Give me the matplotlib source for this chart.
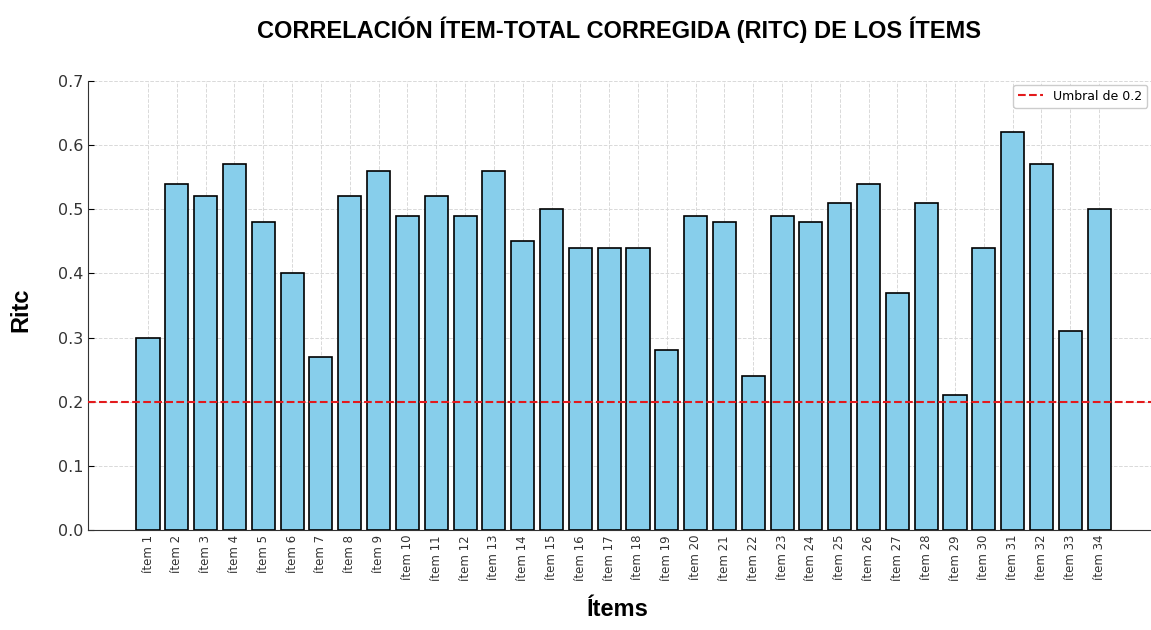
import numpy as np
import matplotlib
matplotlib.use("Agg")
import matplotlib.pyplot as plt

items = ["ítem %d" % i for i in range(1, 35)]
ritc = [0.30, 0.54, 0.52, 0.57, 0.48, 0.40, 0.27, 0.52, 0.56, 0.49,
        0.52, 0.49, 0.56, 0.45, 0.50, 0.44, 0.44, 0.44, 0.28, 0.49,
        0.48, 0.24, 0.49, 0.48, 0.51, 0.54, 0.37, 0.51, 0.21, 0.44,
        0.62, 0.57, 0.31, 0.50]
umbral = 0.2


def main():
    fig = plt.figure(figsize=(11.51, 6.30), dpi=100)
    ax = fig.add_axes([0.0765, 0.1587, 0.9235, 0.7127])

    x = np.arange(len(items))
    ax.bar(x, ritc, width=0.8, color="skyblue", edgecolor="black",
           linewidth=1.2, zorder=2)
    ax.axhline(umbral, color="#e31a1c", linestyle="--", linewidth=1.5,
               label="Umbral de 0.2", zorder=3)

    ax.set_xlim(-2.08, 34.8)
    ax.set_ylim(0, 0.7)
    ax.set_yticks(np.arange(0, 0.71, 0.1))
    ax.set_xticks(x)
    ax.set_xticklabels(items, rotation=90, fontsize=8.5, color="#333333")
    ax.tick_params(axis="y", labelsize=11.5, labelcolor="#333333",
                   direction="in", length=4)
    ax.tick_params(axis="x", direction="in", length=4)
    ax.grid(True, linestyle="--", color="#d9d9d9", linewidth=0.7, zorder=0)
    ax.set_axisbelow(True)
    for s in ["top", "right"]:
        ax.spines[s].set_visible(False)
    ax.spines["left"].set_color("#333333")
    ax.spines["bottom"].set_color("#333333")

    ax.legend(loc="upper right", fontsize=9, borderaxespad=0.3,
              framealpha=1, edgecolor="#cccccc")

    fig.text(0.538, 0.952, "CORRELACIÓN ÍTEM-TOTAL CORREGIDA (RITC) DE LOS ÍTEMS",
             ha="center", va="center", fontsize=17, fontweight="bold",
             family="Liberation Sans")
    fig.text(0.018, 0.508, "Ritc", rotation=90, ha="center", va="center",
             fontsize=17, fontweight="bold", family="Liberation Sans")
    fig.text(0.537, 0.014, "Ítems", ha="center", va="bottom",
             fontsize=17, fontweight="bold", family="Liberation Sans")

    fig.savefig("out.png", dpi=100)


if __name__ == "__main__":
    main()
